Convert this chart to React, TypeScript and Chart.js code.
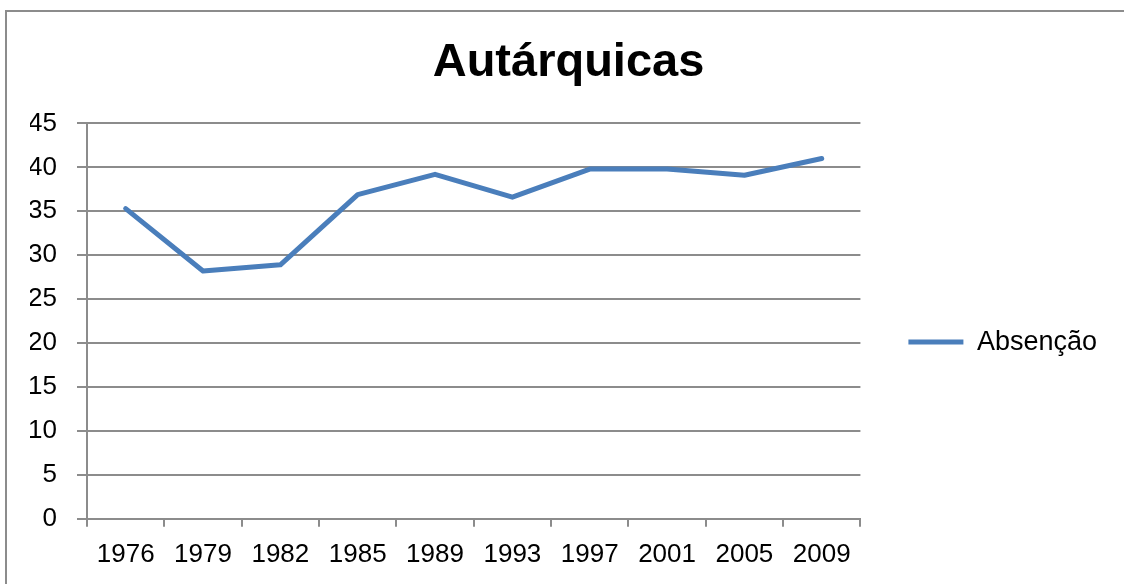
import React, { useEffect, useRef } from "react";
import { Chart, registerables } from "chart.js";

Chart.register(...registerables);

const chartTitle = "Autárquicas";
const seriesLabel = "Absenção";
const categories = ["1976", "1979", "1982", "1985", "1989", "1993", "1997", "2001", "2005", "2009"];
const absencao = [35.3, 28.2, 28.9, 36.9, 39.2, 36.6, 39.8, 39.8, 39.1, 41.0];
const yMin = 0;
const yMax = 45;
const yStep = 5;

const FONT = "'Liberation Sans', Arial, Helvetica, sans-serif";
const GRID = "#8c8c8c";
const LINE = "#4A7EBB";

export default function App() {
  const ref = useRef<HTMLCanvasElement | null>(null);

  useEffect(() => {
    if (!ref.current) return;
    const chart = new Chart(ref.current, {
      type: "line",
      data: {
        labels: categories,
        datasets: [
          {
            label: seriesLabel,
            data: absencao,
            borderColor: LINE,
            backgroundColor: LINE,
            borderWidth: 5,
            pointRadius: 0,
            pointHoverRadius: 0,
            tension: 0,
            borderCapStyle: "round",
            borderJoinStyle: "round",
          },
        ],
      },
      options: {
        responsive: false,
        animation: false,
        devicePixelRatio: 1,
        layout: { padding: { left: 30, right: 17, top: 0, bottom: 2 } },
        plugins: {
          title: {
            display: true,
            text: chartTitle,
            color: "#000",
            font: { family: FONT, size: 47, weight: "bold" },
            padding: { top: 35, bottom: 32 },
          },
          legend: {
            position: "right",
            fullSize: false,
            title: { display: true, text: " ", font: { size: 10 }, padding: { top: 15, bottom: 15 } },
            labels: {
              usePointStyle: true,
              pointStyle: "line",
              pointStyleWidth: 55,
              color: "#000",
              font: { family: FONT, size: 27 },
              padding: 48,
            },
          },
          tooltip: { enabled: false },
        },
        scales: {
          x: {
            offset: true,
            grid: {
              offset: true,
              drawOnChartArea: false,
              drawTicks: true,
              tickLength: 8,
              color: GRID,
              lineWidth: 2,
            },
            border: { display: true, color: GRID, width: 2 },
            ticks: {
              color: "#000",
              font: { family: FONT, size: 26 },
              padding: 12,
              maxRotation: 0,
              autoSkip: false,
            },
          },
          y: {
            min: yMin,
            max: yMax,
            ticks: {
              stepSize: yStep,
              color: "#000",
              font: { family: FONT, size: 26 },
              padding: 20,
            },
            grid: { color: GRID, lineWidth: 2, tickLength: 10 },
            border: { display: true, color: GRID, width: 2 },
            afterFit: (s: any) => {
              s.width = 57;
            },
          },
        },
      },
    } as any);
    return () => chart.destroy();
  }, []);

  return (
    <div
      style={{
        position: "absolute",
        left: 0,
        top: 0,
        width: 1124,
        height: 584,
        overflow: "hidden",
        background: "#fff",
      }}
    >
      <div
        style={{
          position: "absolute",
          left: 5,
          top: 10,
          width: 1300,
          height: 800,
          border: `2px solid ${GRID}`,
        }}
      />
      <canvas
        ref={ref}
        width={1124}
        height={584}
        style={{ position: "absolute", left: 0, top: 0, width: 1124, height: 584 }}
      />
    </div>
  );
}
